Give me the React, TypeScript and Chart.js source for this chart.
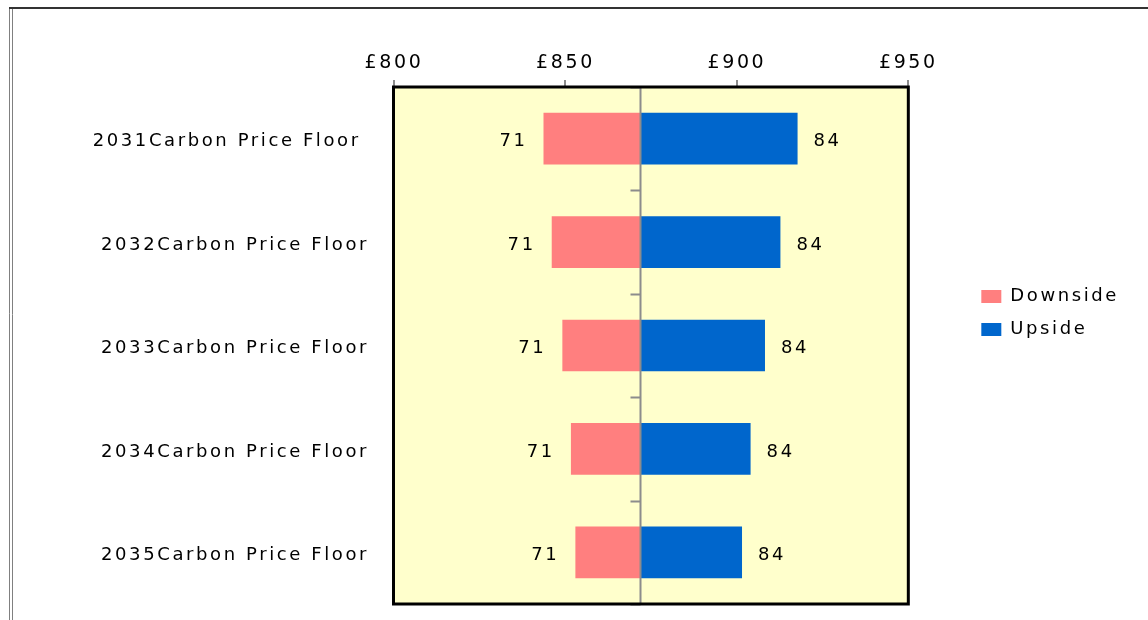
import React, { useEffect, useRef } from 'react';
import { Chart, registerables } from 'chart.js';

Chart.register(...registerables);

const categories = [
  '2031Carbon Price Floor ',
  '2032Carbon Price Floor',
  '2033Carbon Price Floor',
  '2034Carbon Price Floor',
  '2035Carbon Price Floor',
];
const seriesNames = ['Downside', 'Upside'];
const baseValue = 871.8;
const downsideValues = [843.6, 846.0, 849.1, 851.6, 852.9];
const upsideValues = [917.7, 912.7, 908.2, 904.0, 901.5];
const downsideLabels = ['71', '71', '71', '71', '71'];
const upsideLabels = ['84', '84', '84', '84', '84'];
const xMin = 800;
const xMax = 950;
const xStep = 50;

const FONT = 'DejaVu Sans';
const LS = '2.6px';

const spacingPlugin = {
  id: 'spacing',
  beforeUpdate(chart: any) { chart.ctx.letterSpacing = LS; },
  beforeLayout(chart: any) { chart.ctx.letterSpacing = LS; },
  beforeDraw(chart: any) { chart.ctx.letterSpacing = LS; },
};

const noPad = (s: any) => {
  s.paddingTop = 0;
  s.paddingBottom = 0;
  s.paddingLeft = 0;
  s.paddingRight = 0;
};

const decorPlugin = {
  id: 'decor',
  beforeDraw(chart: any) {
    const { ctx, chartArea: a } = chart;
    ctx.save();
    ctx.fillStyle = '#FFFFCC';
    ctx.fillRect(a.left, a.top, a.right - a.left, a.bottom - a.top);
    ctx.strokeStyle = '#808080';
    ctx.lineWidth = 1;
    ctx.beginPath();
    ctx.moveTo(9.5, 620);
    ctx.lineTo(9.5, 7.5);
    ctx.moveTo(12.5, 620);
    ctx.lineTo(12.5, 9);
    ctx.stroke();
    ctx.strokeStyle = '#333333';
    ctx.lineWidth = 2;
    ctx.beginPath();
    ctx.moveTo(9, 8);
    ctx.lineTo(1148, 8);
    ctx.stroke();
    ctx.restore();
  },
  afterDatasetsDraw(chart: any) {
    const { ctx, chartArea: a, scales } = chart;
    const xs = scales.x;
    const ys = scales.y;
    const cx = Math.round(xs.getPixelForValue(baseValue)) + 0.5;
    ctx.save();
    ctx.strokeStyle = '#8c8c8c';
    ctx.lineWidth = 2;
    ctx.beginPath();
    ctx.moveTo(cx, a.top);
    ctx.lineTo(cx, a.bottom);
    ctx.stroke();
    const n = categories.length;
    const step = (a.bottom - a.top) / n;
    ctx.beginPath();
    for (let i = 0; i <= n; i++) {
      const yy = Math.round(ys.getPixelForValue(0) - step / 2 + i * step) + 0.5;
      ctx.moveTo(cx - 10, yy);
      ctx.lineTo(cx, yy);
    }
    ctx.stroke();
    ctx.strokeStyle = '#000';
    ctx.lineWidth = 3;
    ctx.strokeRect(a.left - 0.5, a.top, a.right - a.left + 0.5, a.bottom - a.top);
    ctx.font = `18px ${FONT}`;
    ctx.fillStyle = '#000';
    ctx.textBaseline = 'middle';
    const m0 = chart.getDatasetMeta(0);
    const m1 = chart.getDatasetMeta(1);
    m0.data.forEach((el: any, i: number) => {
      ctx.textAlign = 'right';
      ctx.fillText(downsideLabels[i], Math.min(el.x, el.base) - 16, el.y + 3);
    });
    m1.data.forEach((el: any, i: number) => {
      ctx.textAlign = 'left';
      ctx.fillText(upsideLabels[i], Math.max(el.x, el.base) + 16, el.y + 3);
    });
    ctx.restore();
  },
};

export default function App() {
  const ref = useRef<HTMLCanvasElement | null>(null);
  useEffect(() => {
    if (!ref.current) return;
    Chart.defaults.font.family = FONT;
    Chart.defaults.font.size = 18;
    Chart.defaults.color = '#000';
    const chart = new Chart(ref.current, {
      type: 'bar',
      data: {
        labels: categories,
        datasets: [
          {
            label: seriesNames[0],
            data: downsideValues.map((v) => [baseValue, v]) as any,
            backgroundColor: '#FF7F7F',
            borderWidth: 0,
            xAxisID: 'x',
            yAxisID: 'y',
            grouped: false,
            categoryPercentage: 1,
            barPercentage: 0.5,
          } as any,
          {
            label: seriesNames[1],
            data: upsideValues.map((v) => [baseValue, v]) as any,
            backgroundColor: '#0066CC',
            borderWidth: 0,
            xAxisID: 'x',
            yAxisID: 'y',
            grouped: false,
            categoryPercentage: 1,
            barPercentage: 0.5,
          } as any,
        ],
      },
      options: {
        indexAxis: 'y',
        responsive: false,
        animation: false,
        devicePixelRatio: 1,
        layout: { padding: { left: 0, top: 22, right: 19, bottom: 16 } },
        scales: {
          x: {
            type: 'linear',
            position: 'top',
            min: xMin,
            max: xMax,
            ticks: {
              stepSize: xStep,
              padding: 6,
              font: { size: 19, family: FONT },
              color: '#000',
              callback: (v: any) => '£' + v,
            },
            grid: {
              drawOnChartArea: false,
              drawTicks: true,
              tickLength: 7,
              color: '#8c8c8c',
              lineWidth: 2,
            },
            border: { display: false },
            afterFit: (s: any) => { s.height = 65; noPad(s); },
          },
          y: {
            type: 'category',
            position: 'left',
            grid: { display: false, drawTicks: false },
            border: { display: false },
            ticks: {
              padding: 25,
              labelOffset: 3,
              font: { size: 18, family: FONT },
              color: '#000',
            },
            afterFit: (s: any) => { s.width = 394; noPad(s); },
          },
          yR: {
            type: 'category',
            position: 'right',
            display: true,
            grid: { display: false, drawTicks: false },
            border: { display: false },
            ticks: { display: false },
            afterFit: (s: any) => { s.width = 58; noPad(s); },
          },
        },
        plugins: {
          legend: {
            position: 'right',
            labels: {
              boxWidth: 20,
              boxHeight: 13,
              padding: 15,
              font: { size: 18, family: FONT },
              color: '#000',
            },
          },
          tooltip: { enabled: false },
        },
      } as any,
      plugins: [spacingPlugin, decorPlugin],
    });
    return () => chart.destroy();
  }, []);
  return (
    <div style={{ position: 'absolute', left: 0, top: 0, width: 1148, height: 620, background: '#fff' }}>
      <canvas ref={ref} width={1148} height={620} style={{ display: 'block' }} />
    </div>
  );
}
